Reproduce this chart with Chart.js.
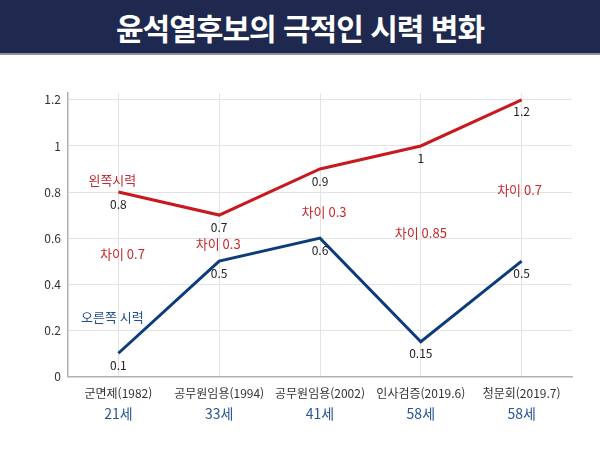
<!DOCTYPE html>
<html lang="ko">
<head>
<meta charset="utf-8">
<script src="https://cdn.jsdelivr.net/npm/chart.js@4/dist/chart.umd.min.js"></script>
<style>
  html, body { margin: 0; padding: 0; background: #fff; }
  body { width: 600px; height: 450px; overflow: hidden; font-family: "Noto Sans CJK KR", sans-serif; }
  #title {
    height: 53px; background: #1f284e; border-bottom: 2px solid #8a8f9c;
    color: #fff; font-size: 30px; font-weight: bold; text-align: center;
    line-height: 55px; letter-spacing: -1px;
  }
  #wrap { position: relative; width: 600px; height: 395px; }
</style>
</head>
<body>
<div id="title">윤석열후보의 극적인 시력 변화</div>
<div id="wrap"><canvas id="chart"></canvas></div>
<script>
const categories = ['군면제(1982)', '공무원임용(1994)', '공무원임용(2002)', '인사검증(2019.6)', '청문회(2019.7)'];
const ages = ['21세', '33세', '41세', '58세', '58세'];
const leftEye = [0.8, 0.7, 0.9, 1, 1.2];
const rightEye = [0.1, 0.5, 0.6, 0.15, 0.5];
const yTicks = [0, 0.2, 0.4, 0.6, 0.8, 1, 1.2];
const seriesNames = ['왼쪽시력', '오른쪽 시력'];
const gapLabels = ['차이 0.7', '차이 0.3', '차이 0.3', '차이 0.85', '차이 0.7'];

const RED = '#c8191e';
const BLUE = '#0c3c7c';
const NOTE_RED = '#c62a2e';
const NOTE_BLUE = '#1f4f8c';

// where the free text sits, in (category index, value) units
const nameSpots = [[-0.06, 0.852], [-0.06, 0.257]];
const gapSpots = [[0.04, 0.53], [0.99, 0.574], [2.04, 0.713], [3.0, 0.622], [3.98, 0.809]];

const labelPlugin = {
  id: 'pointLabels',
  afterDatasetsDraw(chart) {
    const ctx = chart.ctx;
    const xs = chart.scales.x, ys = chart.scales.y;
    ctx.save();
    ctx.textAlign = 'center';
    ctx.textBaseline = 'middle';
    ctx.font = '12px "Noto Sans CJK KR"';
    ctx.fillStyle = '#222';
    chart.data.datasets.forEach((ds, i) => {
      chart.getDatasetMeta(i).data.forEach((pt, j) => {
        ctx.fillText(String(ds.data[j]), pt.x, pt.y + 12);
      });
    });
    ctx.font = '13px "Noto Sans CJK KR"';
    seriesNames.forEach((t, i) => {
      ctx.fillStyle = i === 0 ? NOTE_RED : NOTE_BLUE;
      ctx.fillText(t, xs.getPixelForValue(nameSpots[i][0]), ys.getPixelForValue(nameSpots[i][1]));
    });
    ctx.fillStyle = NOTE_RED;
    gapLabels.forEach((t, i) => {
      ctx.fillText(t, xs.getPixelForValue(gapSpots[i][0]), ys.getPixelForValue(gapSpots[i][1]));
    });
    ctx.restore();
  }
};

new Chart(document.getElementById('chart'), {
  type: 'line',
  data: {
    labels: categories,
    datasets: [
      { data: leftEye, borderColor: RED, borderWidth: 3, pointRadius: 0, tension: 0 },
      { data: rightEye, borderColor: BLUE, borderWidth: 3, pointRadius: 0, tension: 0 }
    ]
  },
  options: {
    responsive: true,
    maintainAspectRatio: false,
    animation: false,
    layout: { padding: { top: 38, left: 20, right: 28, bottom: 28 } },
    plugins: { legend: { display: false }, tooltip: { enabled: false } },
    scales: {
      x: {
        offset: true,
        afterFit(scale) { scale.height -= 5.5; },
        grid: { color: '#e3e3e3', offset: false, drawTicks: false },
        border: { color: '#b0b0b0', width: 1.5 },
        ticks: { color: '#333', padding: 10, font: { size: 12, family: '"Noto Sans CJK KR"' } }
      },
      x2: {
        type: 'category',
        labels: ages,
        position: 'bottom',
        offset: true,
        grid: { display: false, drawTicks: false },
        border: { display: false },
        ticks: { color: '#2a5694', padding: 0, font: { size: 14, family: '"Noto Sans CJK KR"' } }
      },
      y: {
        min: 0,
        max: 1.23,
        afterBuildTicks(scale) { scale.ticks = yTicks.map(v => ({ value: v })); },
        afterFit(scale) { scale.width = 48; },
        grid: { color: '#e3e3e3', drawTicks: false },
        border: { color: '#b0b0b0', width: 1.5 },
        ticks: {
          color: '#333', padding: 7, font: { size: 12, family: '"Noto Sans CJK KR"' },
          callback: v => String(v)
        }
      }
    }
  },
  plugins: [labelPlugin]
});
</script>
</body>
</html>
